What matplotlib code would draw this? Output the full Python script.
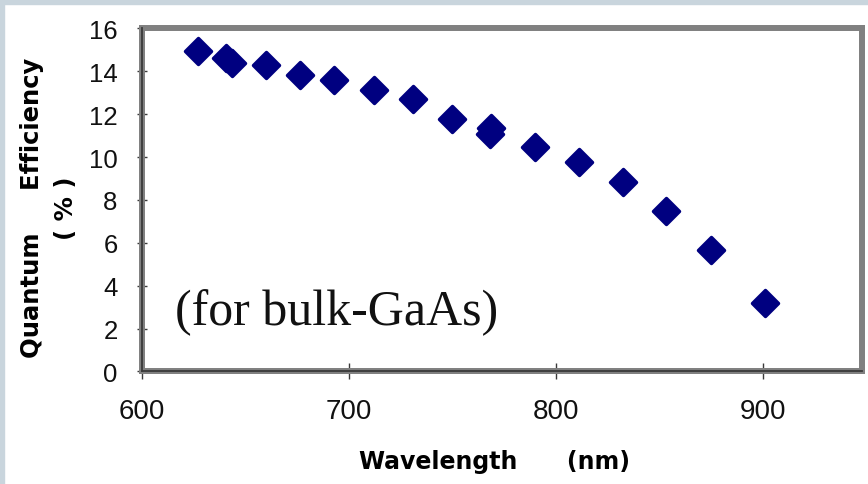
import matplotlib
matplotlib.use("Agg")
import matplotlib.pyplot as plt
from matplotlib.patches import Rectangle
from matplotlib.markers import MarkerStyle

# values
wavelength = [627, 640.5, 643.5, 660, 676.5, 693, 712, 731, 750,
              768.5, 768, 790, 811, 832.5, 853.5, 875, 901]
qe = [14.95, 14.6, 14.4, 14.3, 13.85, 13.6, 13.15, 12.7, 11.8,
      11.35, 11.1, 10.45, 9.75, 8.85, 7.5, 5.65, 3.2]
xticks = [600, 700, 800, 900]
yticks = [0, 2, 4, 6, 8, 10, 12, 14, 16]

plt.rcParams['font.family'] = ['Liberation Sans', 'DejaVu Sans']

fig = plt.figure(figsize=(8.68, 4.85), dpi=100)
ax = fig.add_axes([0.1636, 0.2320, 0.8295, 0.7072])

# light frame round the slide picture
fig.patches.append(Rectangle((0, 0), 3.5 / 868, 1, transform=fig.transFigure,
                             color='#c9d5dd', zorder=0))
fig.patches.append(Rectangle((0, 1 - 4.5 / 485), 1, 4.5 / 485,
                             transform=fig.transFigure, color='#c9d5dd', zorder=0))

diamond = MarkerStyle('D', joinstyle='round')
ax.plot(wavelength, qe, linestyle='none', marker=diamond, markersize=13.5,
        color='#000080', markeredgecolor='#000080', markeredgewidth=2.5,
        markerfacecolor='#000080', zorder=5)

ax.set_xlim(600, 948)
ax.set_ylim(0, 16)
ax.set_xticks(xticks)
ax.set_yticks(yticks)

for s in ax.spines.values():
    s.set_color('#808080')
    s.set_linewidth(4.3)
ax.axvline(600, color='#3a3a3a', lw=1.3, clip_on=False, zorder=6)
ax.axhline(0, color='#3a3a3a', lw=1.3, clip_on=False, zorder=6)

ax.tick_params(axis='x', direction='inout', length=11.5, width=1, color='#3a3a3a',
               labelsize=20, pad=13, labelcolor='#111111')
ax.tick_params(axis='y', direction='inout', length=7, width=1, color='#3a3a3a',
               labelsize=18.5, pad=14, labelcolor='#111111')

ax.set_xlabel('Wavelength      (nm)', fontsize=17, fontweight='bold',
              family='DejaVu Sans')
ax.xaxis.set_label_coords(0.49, -0.225)
ax.set_ylabel('Quantum     Efficiency\n( % )', fontsize=17.5, fontweight='bold',
              family='DejaVu Sans', linespacing=1.5)
ax.yaxis.set_label_coords(-0.089, 0.48)

ax.text(616, 2.19, '(for bulk-GaAs)', fontsize=36, family='Liberation Serif',
        va='baseline', ha='left', color='#111111')

fig.savefig('out.png', dpi=100)
